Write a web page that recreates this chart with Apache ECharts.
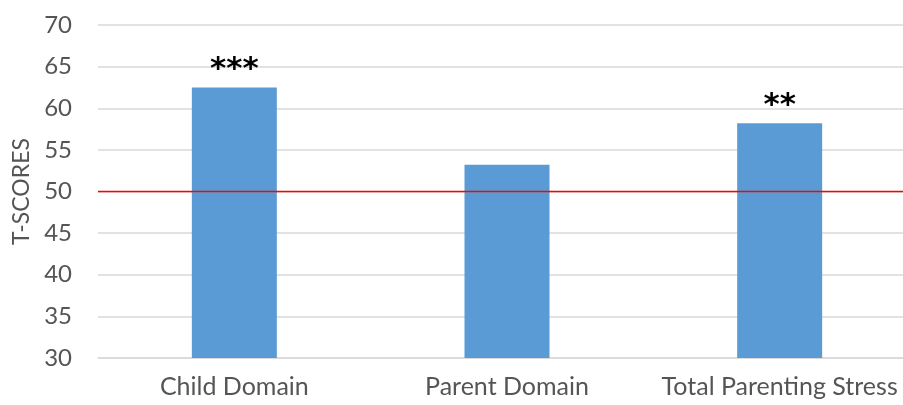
<!DOCTYPE html>
<html><head><meta charset="utf-8">
<script src="https://cdn.jsdelivr.net/npm/echarts@6/dist/echarts.min.js"></script>
<style>html,body{margin:0;padding:0;background:#fff;overflow:hidden;width:903px;height:405px}#c{width:916px;height:405px}</style>
</head><body><div id="c"></div>
<script>
const categories = ['Child Domain', 'Parent Domain', 'Total Parenting Stress'];
const tScores = [62.5, 53.2, 58.2];
const significance = ['***', '', '**'];
const referenceLine = 50;
const yTicks = [30, 35, 40, 45, 50, 55, 60, 65, 70];

const chart = echarts.init(document.getElementById('c'));
const font = 'Lato';
chart.setOption({
  animation: false,
  grid: { left: 98, right: 0, top: 25, bottom: 47, containLabel: false },
  xAxis: {
    type: 'category', data: categories,
    axisLine: { show: true, lineStyle: { color: '#d9d9d9', width: 1.5 } },
    axisTick: { show: false },
    axisLabel: { color: '#555555', fontSize: 25, fontFamily: font, margin: 16, interval: 0, hideOverlap: false }
  },
  yAxis: {
    type: 'value', min: yTicks[0], max: yTicks[yTicks.length - 1], interval: 5,
    name: 'T-SCORES', nameLocation: 'middle', nameGap: 63, nameRotate: 90,
    nameTextStyle: { color: '#555555', fontSize: 23, fontFamily: font },
    axisLine: { show: false }, axisTick: { show: false },
    axisLabel: { color: '#555555', fontSize: 24, fontFamily: font, margin: 26 },
    splitLine: { lineStyle: { color: '#d9d9d9', width: 1.5 } }
  },
  series: [{
    type: 'bar', data: tScores, barWidth: 85,
    itemStyle: { color: '#5b9bd5' },
    label: {
      show: true, position: 'top', distance: 2,
      formatter: p => significance[p.dataIndex],
      color: '#000', fontSize: 31, fontWeight: 'bold', fontFamily: 'DejaVu Sans'
    },
    markLine: {
      silent: true, symbol: ['none', 'none'], z: 10,
      label: { show: false },
      lineStyle: { color: '#ff0000', width: 1.3, type: 'solid', opacity: 1 },
      data: [{ yAxis: referenceLine }]
    }
  }]
});
</script></body></html>
